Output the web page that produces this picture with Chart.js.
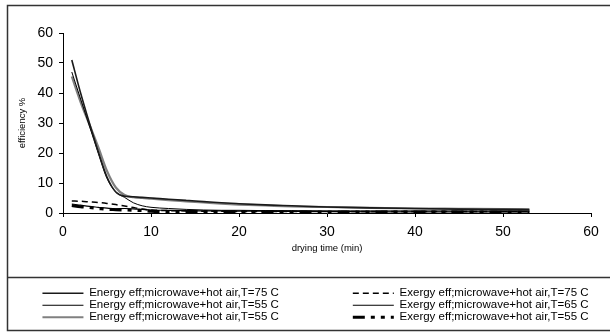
<!DOCTYPE html>
<html>
<head>
<meta charset="utf-8">
<script src="https://cdn.jsdelivr.net/npm/chart.js@4.4.1/dist/chart.umd.min.js"></script>
<style>
  html, body { margin: 0; padding: 0; background: #fff; overflow: hidden; }
  canvas { display: block; }
</style>
</head>
<body>
<canvas id="myChart" width="631" height="333"></canvas>
<script>
// drying time (min)
const time = [1, 2, 3, 4, 5, 6, 7, 8, 9, 10, 12, 14, 16, 18, 20, 23, 26, 30, 35, 40, 45, 50, 53];

const energy75 = [51, 40, 30, 20.5, 12, 7, 5.6, 5.4, 5.2, 5.0, 4.6, 4.2, 3.8, 3.4, 3.1, 2.7, 2.4, 2.0, 1.7, 1.5, 1.3, 1.2, 1.1];
const energy55 = [47, 38, 29, 20, 11.5, 7, 5.2, 3.4, 2.4, 1.9, 1.5, 1.2, 1.0, 0.9, 0.9, 0.8, 0.8, 0.7, 0.7, 0.7, 0.7, 0.7, 0.7];
const energy55b = [45.5, 37, 29.5, 22, 14, 8.5, 6, 5.3, 5.0, 4.8, 4.3, 3.9, 3.5, 3.1, 2.8, 2.5, 2.2, 2.0, 1.7, 1.5, 1.4, 1.3, 1.3];
const exergy75 = [4, 3.9, 3.7, 3.5, 3.2, 2.8, 2.3, 1.8, 1.3, 1.0, 0.8, 0.7, 0.6, 0.6, 0.5, 0.5, 0.5, 0.5, 0.5, 0.5, 0.5, 0.5, 0.5];
const exergy65 = [3, 2.6, 2.2, 1.9, 1.6, 1.4, 1.5, 1.4, 1.2, 1.0, 0.9, 0.8, 0.7, 0.7, 0.6, 0.6, 0.5, 0.5, 0.4, 0.4, 0.4, 0.4, 0.4];
const exergy55 = [2.5, 2.1, 1.8, 1.5, 1.2, 1.1, 1.0, 0.9, 0.8, 0.6, 0.5, 0.5, 0.4, 0.4, 0.4, 0.4, 0.3, 0.3, 0.3, 0.3, 0.3, 0.3, 0.3];

const yTicks = [0, 10, 20, 30, 40, 50, 60];
const xTicks = [0, 10, 20, 30, 40, 50, 60];

function pts(arr) {
    return time.map((t, i) => ({ x: t, y: arr[i] }));
}

Chart.defaults.font.family = "'Liberation Sans', Arial, sans-serif";
Chart.defaults.color = '#000';

// white background and the thin frame round the chart and the legend
const framePlugin = {
    id: 'frame',
    beforeDraw(chart) {
        const ctx = chart.ctx;
        ctx.save();
        ctx.fillStyle = '#fff';
        ctx.fillRect(0, 0, chart.width, chart.height);
        ctx.restore();
    },
    afterDraw(chart) {
        const ctx = chart.ctx;
        ctx.save();
        ctx.strokeStyle = '#333';
        ctx.lineWidth = 1.5;
        ctx.strokeRect(7.5, 5.5, chart.width + 20, 325);
        ctx.beginPath();
        ctx.moveTo(7.5, 277.5);
        ctx.lineTo(chart.width, 277.5);
        ctx.stroke();
        ctx.restore();
    }
};

const legendFont = 11.5;

new Chart("myChart", {
    type: "line",
    data: {
        datasets: [{
            label: "Energy eff;microwave+hot air,T=75 C",
            data: pts(energy75),
            borderColor: "#1a1a1a",
            borderWidth: 1.6
        },
        {
            label: "Exergy eff;microwave+hot air,T=75 C",
            data: pts(exergy75),
            borderColor: "#000",
            borderWidth: 1.5,
            borderDash: [6, 4]
        },
        {
            label: "Energy eff;microwave+hot air,T=55 C",
            data: pts(energy55),
            borderColor: "#000",
            borderWidth: 1
        },
        {
            label: "Exergy eff;microwave+hot air,T=65 C",
            data: pts(exergy65),
            borderColor: "#000",
            borderWidth: 1.2
        },
        {
            label: "Energy eff;microwave+hot air,T=55 C",
            data: pts(energy55b),
            borderColor: "#808080",
            borderWidth: 2.2
        },
        {
            label: "Exergy eff;microwave+hot air,T=55 C",
            data: pts(exergy55),
            borderColor: "#000",
            borderWidth: 3,
            borderDash: [12, 6, 4, 6, 4, 6]
        }]
    },
    options: {
        responsive: false,
        animation: false,
        devicePixelRatio: 1,
        layout: { padding: { top: 33, left: 0, right: 0, bottom: 0 } },
        elements: {
            point: { radius: 0, pointStyle: 'line' },
            line: { cubicInterpolationMode: 'monotone', fill: false }
        },
        scales: {
            x: {
                type: 'linear',
                min: 0,
                max: 60,
                afterBuildTicks: s => { s.ticks = xTicks.map(v => ({ value: v })); },
                grid: { display: true, drawOnChartArea: false, drawTicks: true, tickLength: 4, color: '#000' },
                border: { display: true, color: '#000', width: 1 },
                ticks: { font: { size: 14 }, padding: 7, maxRotation: 0 },
                title: { display: true, text: 'drying time (min)', font: { size: 9.5 }, padding: { top: 0, bottom: 33 } },
                afterFit: s => { s.height = 74; s.paddingRight = 40; }
            },
            y: {
                min: 0,
                max: 60,
                afterBuildTicks: s => { s.ticks = yTicks.map(v => ({ value: v })); },
                grid: { display: true, drawOnChartArea: false, drawTicks: true, tickLength: 4, color: '#000' },
                border: { display: true, color: '#000', width: 1 },
                ticks: { font: { size: 14 }, padding: 6 },
                title: { display: true, text: 'efficiency %', font: { size: 9.5 }, padding: { top: 17, bottom: 0 } },
                afterFit: s => { s.width = 63; }
            }
        },
        plugins: {
            legend: {
                position: 'bottom',
                align: 'center',
                labels: {
                    usePointStyle: true,
                    pointStyleWidth: 41,
                    boxHeight: legendFont,
                    padding: 0.5,
                    font: { size: legendFont },
                    color: '#000',
                    // line samples take the dataset's dash; left column items get
                    // trailing blanks so the two columns line up
                    generateLabels(chart) {
                        const items = Chart.defaults.plugins.legend.labels.generateLabels(chart);
                        const ctx = chart.ctx;
                        ctx.save();
                        ctx.font = legendFont + "px 'Liberation Sans', Arial, sans-serif";
                        items.forEach((it, i) => {
                            const ds = chart.data.datasets[it.datasetIndex];
                            it.pointStyle = 'line';
                            it.lineDash = ds.borderDash || [];
                            it.lineWidth = ds.borderWidth;
                            it.strokeStyle = ds.borderColor;
                            if (i % 2 === 0) {
                                let t = it.text;
                                while (ctx.measureText(t + ' ').width <= 266) t += ' ';
                                it.text = t;
                            }
                        });
                        ctx.restore();
                        return items;
                    }
                }
            },
            tooltip: { enabled: false }
        }
    },
    plugins: [framePlugin]
});
</script>
</body>
</html>
